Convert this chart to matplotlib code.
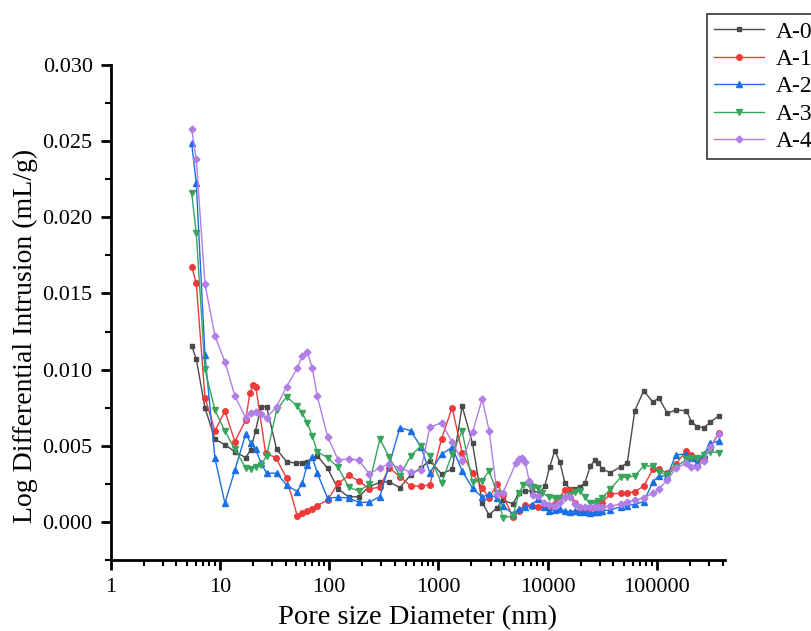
import matplotlib
matplotlib.use('Agg')
import matplotlib.pyplot as plt
from matplotlib.ticker import MultipleLocator, LogLocator, FuncFormatter, NullFormatter

plt.rcParams['font.family'] = ['Liberation Serif', 'DejaVu Serif']

# A-0
x0 = [5.51, 6.07, 7.29, 9.0, 11.1, 13.7, 17.2, 19.1, 21.2, 23.7, 26.7, 33.0, 40.7, 50.0, 56.6,
      62.9, 77.6, 96.6, 120.8, 151, 187, 232, 291, 354, 444, 556, 691, 834, 1067, 1334, 1647,
      2051, 2512, 2911, 3446, 3883, 4822, 5445, 6212, 7112, 8470, 9400, 10440, 11610, 12910,
      14330, 15920, 17690, 19650, 21830, 24640, 26980, 28920, 31470, 37560, 46680, 53490,
      62660, 75700, 92100, 103800, 124700, 148500, 186200, 206800, 234900, 268200, 308600, 367500]
y0 = [0.01157, 0.01070, 0.00750, 0.00543, 0.00507, 0.00461, 0.00422, 0.00472, 0.00599, 0.00757,
      0.00757, 0.00477, 0.00396, 0.00385, 0.00389, 0.00396, 0.00435, 0.00352, 0.00215, 0.00164,
      0.00166, 0.00232, 0.00260, 0.00264, 0.00225, 0.00308, 0.00356, 0.00402, 0.00315, 0.00346,
      0.00761, 0.00516, 0.00127, 0.00046, 0.00094, 0.00144, 0.00118, 0.00192, 0.00203, 0.00203,
      0.00192, 0.00236, 0.00363, 0.00466, 0.00396, 0.00258, 0.00215, 0.00217, 0.00232, 0.00254,
      0.00369, 0.00404, 0.00390, 0.00348, 0.00323, 0.00363, 0.00385, 0.00730, 0.00862, 0.00785,
      0.00816, 0.00713, 0.00735, 0.00730, 0.00658, 0.00625, 0.00619, 0.00654, 0.00697]

# A-1
x1 = [5.51, 6.07, 7.29, 9.0, 11.1, 13.7, 17.2, 18.8, 19.9, 21.3, 26.2, 32.5, 40.7, 51.0, 56.6,
      62.9, 69.9, 77.6, 96.6, 120.8, 151, 187, 232, 291, 354, 444, 556, 691, 834, 1067, 1334,
      1647, 2051, 2512, 2911, 3446, 3883, 4822, 5445, 6212, 7112, 8170, 9272, 10380, 11610,
      14330, 15920, 17690, 19650, 21830, 24530, 26980, 31470, 37560, 46680, 53490, 62660,
      75700, 92100, 103800, 124700, 148500, 186200, 206800, 234900, 268200, 308600, 367500]
y1 = [0.01673, 0.01570, 0.00816, 0.00597, 0.00728, 0.00527, 0.00669, 0.00848, 0.00897, 0.00888,
      0.00451, 0.00422, 0.00287, 0.00041, 0.00057, 0.00072, 0.00083, 0.00107, 0.00144, 0.00254,
      0.00305, 0.00269, 0.00217, 0.00228, 0.00356, 0.00297, 0.00236, 0.00236, 0.00243, 0.00545,
      0.00751, 0.00455, 0.00318, 0.00226, 0.00157, 0.00249, 0.00177, 0.00030, 0.00075, 0.00108,
      0.00102, 0.00096, 0.00096, 0.00095, 0.00116, 0.00210, 0.00210, 0.00127, 0.00074, 0.00085,
      0.00090, 0.00100, 0.00127, 0.00184, 0.00188, 0.00188, 0.00199, 0.00236, 0.00346, 0.00348,
      0.00320, 0.00381, 0.00466, 0.00440, 0.00407, 0.00422, 0.00488, 0.00586]

# A-2
x2 = [5.51, 6.07, 7.29, 9.0, 11.1, 13.7, 17.2, 19.1, 21.2, 23.7, 26.7, 33.0, 40.7, 51.0, 56.6,
      62.9, 69.9, 77.6, 96.6, 120.8, 151, 187, 232, 291, 444, 556, 691, 834, 1067, 1334, 1647,
      2051, 2512, 2911, 3446, 3883, 4822, 5445, 6212, 7112, 8170, 9272, 10380, 11610, 12910,
      14330, 15920, 17690, 19650, 21830, 24530, 26980, 28920, 31470, 37560, 46680, 53490,
      62660, 75700, 92100, 103800, 124700, 148500, 186200, 206800, 234900, 268200, 308600, 367500]
y2 = [0.02487, 0.02226, 0.01096, 0.00418, 0.00123, 0.00341, 0.00577, 0.00520, 0.00477, 0.00389,
      0.00320, 0.00320, 0.00243, 0.00199, 0.00254, 0.00374, 0.00428, 0.00323, 0.00156, 0.00162,
      0.00157, 0.00129, 0.00129, 0.00166, 0.00619, 0.00599, 0.00494, 0.00323, 0.00444, 0.00490,
      0.00335, 0.00221, 0.00162, 0.00184, 0.00156, 0.00107, 0.00051, 0.00085, 0.00096, 0.00112,
      0.00149, 0.00100, 0.00074, 0.00079, 0.00083, 0.00072, 0.00068, 0.00072, 0.00068, 0.00068,
      0.00061, 0.00064, 0.00068, 0.00074, 0.00079, 0.00100, 0.00107, 0.00116, 0.00133, 0.00264,
      0.00302, 0.00302, 0.00440, 0.00446, 0.00418, 0.00389, 0.00444, 0.00516, 0.00531]

# A-3
x3 = [5.51, 6.07, 7.29, 9.0, 11.1, 13.7, 17.2, 19.1, 21.2, 23.7, 26.7, 33.0, 40.7, 51.0, 56.6,
      62.9, 69.9, 77.6, 96.6, 120.8, 151, 187, 232, 291, 354, 444, 556, 691, 834, 1067, 1334,
      1647, 2051, 2512, 2911, 3446, 3883, 4822, 5445, 6000, 6900, 7350, 8170, 8960, 10380,
      11610, 12910, 14330, 15920, 17690, 19650, 21830, 24530, 26980, 28920, 31470, 37560,
      46680, 53490, 62660, 75700, 92100, 103800, 124700, 148500, 186200, 206800, 234900,
      268200, 308600, 367500]
y3 = [0.02159, 0.01896, 0.01002, 0.00735, 0.00597, 0.00477, 0.00356, 0.00346, 0.00363, 0.00374,
      0.00433, 0.00735, 0.00822, 0.00761, 0.00713, 0.00652, 0.00566, 0.00461, 0.00422, 0.00358,
      0.00228, 0.00203, 0.00247, 0.00545, 0.00425, 0.00302, 0.00433, 0.00499, 0.00433, 0.00254,
      0.00446, 0.00597, 0.00260, 0.00271, 0.00335, 0.00188, 0.00028, 0.00039, 0.00188, 0.00243,
      0.00238, 0.00228, 0.00221, 0.00188, 0.00164, 0.00156, 0.00156, 0.00157, 0.00177, 0.00195,
      0.00203, 0.00162, 0.00123, 0.00127, 0.00140, 0.00156, 0.00217, 0.00293, 0.00293, 0.00302,
      0.00367, 0.00367, 0.00330, 0.00308, 0.00359, 0.00411, 0.00418, 0.00418, 0.00440, 0.00461,
      0.00455]

# A-4
x4 = [5.51, 6.07, 7.29, 9.0, 11.1, 13.7, 17.2, 19.1, 21.2, 23.7, 26.7, 33.0, 40.7, 51.0, 56.6,
      62.9, 69.9, 77.6, 96.6, 120.8, 151, 187, 232, 291, 354, 444, 556, 691, 834, 1067, 1334,
      1647, 2051, 2512, 2911, 3446, 3883, 5105, 5445, 5760, 6212, 6760, 7350, 8170, 9272, 10380,
      11610, 12910, 14330, 15920, 17690, 19650, 21830, 24530, 26980, 28920, 31470, 37560,
      46680, 53490, 62660, 75700, 92100, 103800, 124700, 148500, 186200, 206800, 234900,
      268200, 308600, 367500]
y4 = [0.02579, 0.02382, 0.01562, 0.01220, 0.01052, 0.00827, 0.00684, 0.00713, 0.00724, 0.00707,
      0.00684, 0.00757, 0.00888, 0.01009, 0.01089, 0.01117, 0.01012, 0.00829, 0.00560, 0.00407,
      0.00413, 0.00407, 0.00315, 0.00356, 0.00381, 0.00356, 0.00326, 0.00341, 0.00621, 0.00652,
      0.00523, 0.00400, 0.00589, 0.00807, 0.00599, 0.00184, 0.00188, 0.00385, 0.00411, 0.00418,
      0.00396, 0.00271, 0.00177, 0.00171, 0.00123, 0.00110, 0.00105, 0.00133, 0.00162, 0.00162,
      0.00118, 0.00096, 0.00096, 0.00100, 0.00100, 0.00100, 0.00100, 0.00105, 0.00116, 0.00133,
      0.00144, 0.00159, 0.00188, 0.00215, 0.00276, 0.00352, 0.00385, 0.00359, 0.00359, 0.00402,
      0.00494, 0.00575]

labels = ['A-0', 'A-1', 'A-2', 'A-3', 'A-4']
colors = ['#4a4a4a', '#ee3a3a', '#1b6fe4', '#38a55c', '#b07ee6']
markers = ['s', 'o', '^', 'v', 'D']
msizes = [3.5, 4, 4.5, 4.5, 3.5]

fig = plt.figure(figsize=(8.11, 6.31), dpi=100)
ax = fig.add_axes([0.1365, 0.1125, 0.7575, 0.7845])

series = [(x0, y0), (x1, y1), (x2, y2), (x3, y3), (x4, y4)]
for (xs, ys), lab, c, m, ms in zip(series, labels, colors, markers, msizes):
    ax.plot(xs, ys, color=c, marker=m, markersize=ms, linewidth=1.0, label=lab)

ax.set_xscale('log')
ax.set_xlim(1, 420000)
ax.set_ylim(-0.0025, 0.030)

ax.spines['top'].set_visible(False)
ax.spines['right'].set_visible(False)
ax.spines['left'].set_linewidth(2)
ax.spines['bottom'].set_linewidth(2)

ax.xaxis.set_major_locator(LogLocator(base=10, numticks=10))
ax.xaxis.set_minor_locator(LogLocator(base=10, subs=range(2, 10), numticks=20))
ax.xaxis.set_major_formatter(FuncFormatter(lambda v, p: '%d' % round(v)))
ax.xaxis.set_minor_formatter(NullFormatter())
ax.yaxis.set_major_locator(MultipleLocator(0.005))
ax.yaxis.set_minor_locator(MultipleLocator(0.0025))
ax.yaxis.set_major_formatter(FuncFormatter(lambda v, p: '%.3f' % v))

ax.tick_params(which='major', direction='out', length=7, width=2, labelsize=16, pad=6)
ax.tick_params(which='minor', direction='out', length=4, width=1.5)

ax.set_xlabel('Pore size Diameter (nm)', fontsize=20.5, labelpad=6)
ax.set_ylabel('Log Differential Intrusion (mL/g)', fontsize=20)
ax.yaxis.set_label_coords(-0.118, 0.4535)

leg = fig.legend(loc='upper left', bbox_to_anchor=(707 / 811, 1 - 14 / 631), fontsize=17,
                 frameon=True, fancybox=False, edgecolor='black', borderaxespad=0,
                 handlelength=2.1, handletextpad=0.5, labelspacing=0.25, borderpad=0.3)
leg.get_frame().set_linewidth(1.2)

plt.savefig('out.png', dpi=100)
